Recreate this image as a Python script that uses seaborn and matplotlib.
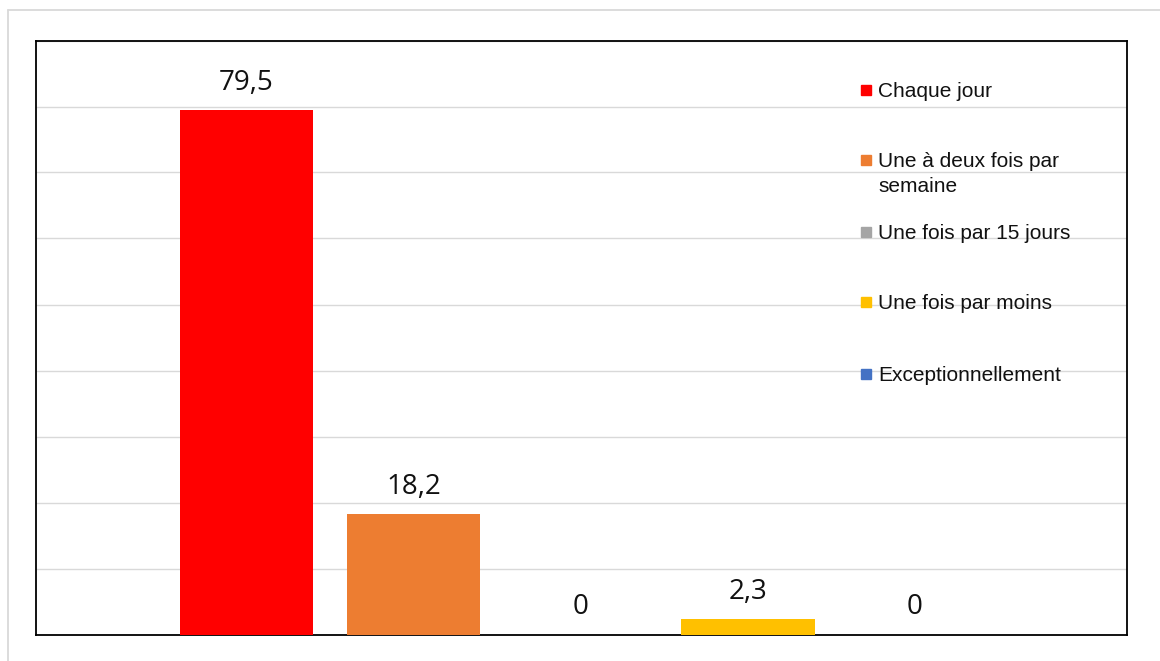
import matplotlib
matplotlib.use("Agg")
import matplotlib.pyplot as plt
from matplotlib.lines import Line2D
import pandas as pd
import seaborn as sns

# Frequency categories and their shares (%)
categories = [
    "Chaque jour",
    "Une à deux fois par\nsemaine",
    "Une fois par 15 jours",
    "Une fois par moins",
    "Exceptionnellement",
]
values = [79.5, 18.2, 0, 2.3, 0]
colors = ["#FF0000", "#ED7D31", "#A5A5A5", "#FFC000", "#4472C4"]
y_max = 90
grid_step = 10

df = pd.DataFrame({"categorie": categories, "valeur": values})

sns.set_theme(style="white")
plt.rcParams["font.family"] = ["Liberation Sans", "DejaVu Sans"]

W, H = 1160, 661
fig = plt.figure(figsize=(W / 100, H / 100), dpi=100)
fig.patch.set_facecolor("white")

# plot area (pixels -> figure fractions)
left, right, top, bottom = 35.5, 1127, 40.5, 634.5
ax = fig.add_axes([left / W, 1 - bottom / H, (right - left) / W, (bottom - top) / H])

sns.barplot(
    data=df, x="categorie", y="valeur", hue="categorie",
    order=categories, hue_order=categories, palette=colors,
    width=0.8, legend=False, ax=ax, saturation=1, zorder=3,
    linewidth=0,
)

ax.set_ylim(0, y_max)
ax.set_xlim(-1.263, 5.27)
ax.set_yticks(range(0, y_max + 1, grid_step))
ax.yaxis.grid(True, color="#D9D9D9", linewidth=1.0, zorder=0)
ax.xaxis.grid(False)
ax.set_axisbelow(True)
ax.set_xticks([])
ax.set_yticklabels([])
ax.tick_params(left=False, bottom=False)
ax.set_xlabel("")
ax.set_ylabel("")
for s in ax.spines.values():
    s.set_visible(True)
    s.set_color("black")
    s.set_linewidth(1.3)
    s.set_zorder(2)

# value labels with decimal comma
for cont in ax.containers:
    labels = [(f"{b.get_height():g}").replace(".", ",") for b in cont]
    ax.bar_label(cont, labels=labels, padding=9.5, fontsize=20,
                 family=["Open Sans", "DejaVu Sans"], color="#111111")

# legend drawn as a column of colour squares and labels;
# each label's first line sits on the square's level
legend_y = [0.9167, 0.7988, 0.6776, 0.5598, 0.4386]
for lab, col, yy in zip(categories, colors, legend_y):
    ax.plot([0.761], [yy], marker="s", markersize=7.3, color=col,
            transform=ax.transAxes, linestyle="none", clip_on=False, zorder=4)
    ax.annotate(lab, xy=(0.7719, yy), xycoords="axes fraction",
                xytext=(0, 5.8), textcoords="offset points",
                fontsize=15, va="top", ha="left", color="#111111",
                linespacing=1.4, zorder=4)

# light chart-area frame
fx = 8 / W
fy = 1 - 10 / H
fig.add_artist(Line2D([fx, 1.0], [fy, fy], color="#D9D9D9", linewidth=1.3))
fig.add_artist(Line2D([fx, fx], [0.0, fy], color="#D9D9D9", linewidth=1.3))

fig.savefig("out.png", dpi=100, facecolor="white")
